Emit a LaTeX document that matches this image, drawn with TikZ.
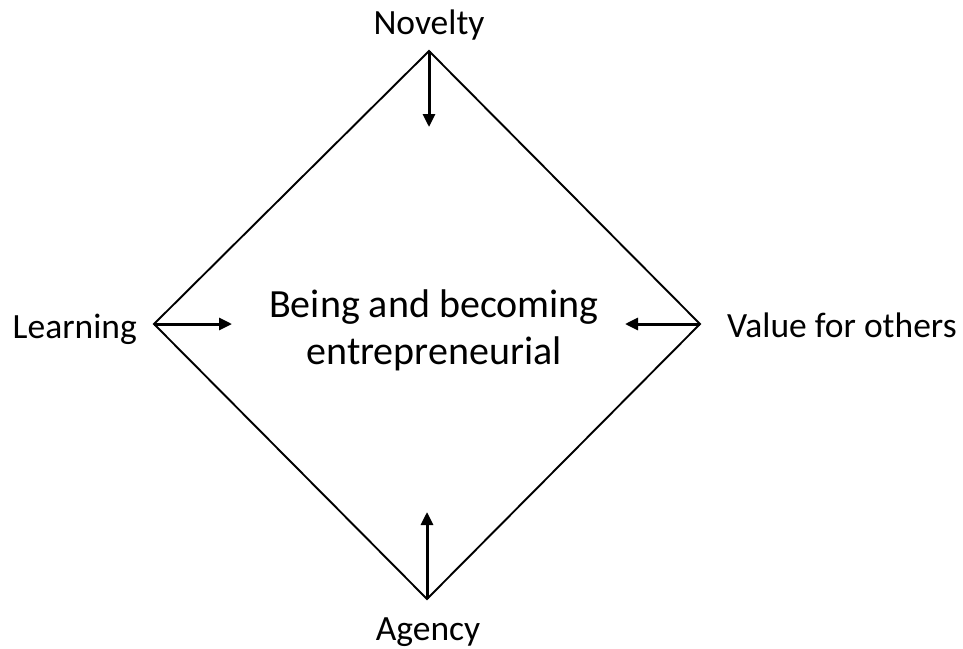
\documentclass[tikz,border=0pt]{standalone}
\usepackage{fontspec}
\setmainfont{Carlito}
\usetikzlibrary{arrows.meta}
\begin{document}
\begin{tikzpicture}[x=1pt,y=-1pt,
  lbl/.style={inner sep=0pt,font=\fontsize{35.5}{42}\selectfont},
  edge/.style={line width=1.9pt},
  arr/.style={line width=3pt,-{Triangle[length=13pt,width=12pt]}}]
\useasboundingbox (0,0) rectangle (963,648);
\coordinate (T) at (429,51);
\coordinate (L) at (154,324);
\coordinate (R) at (700,324);
\coordinate (B) at (427,599);
\coordinate (Ta) at (429,127);
\coordinate (La) at (232,324);
\coordinate (Ra) at (625,324);
\coordinate (Ba) at (427,512);
\draw[edge] (T) -- (R) -- (B) -- (L) -- cycle;
\draw[arr] (T) -- (Ta);
\draw[arr] (L) -- (La);
\draw[arr] (R) -- (Ra);
\draw[arr] (B) -- (Ba);
\node[lbl,anchor=base] (nov) at (429,34) {Novelty};
\node[lbl,anchor=base east] (lea) at (137,338) {Learning};
\node[lbl,anchor=base west] (val) at (727,337) {Value for others};
\node[lbl,anchor=base] (age) at (428,640) {Agency};
\node[inner sep=0pt,align=center,font=\fontsize{40}{47}\selectfont] (ctr) at (434,330) {Being and becoming\\entrepreneurial};
\end{tikzpicture}
\end{document}
